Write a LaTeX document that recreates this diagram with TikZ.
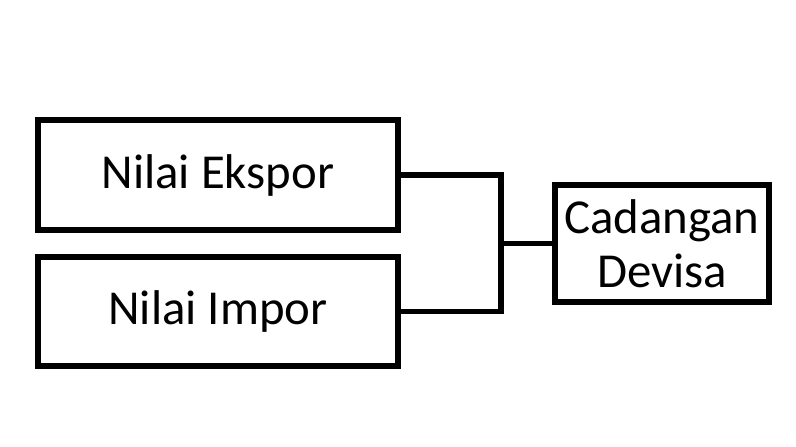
\documentclass[tikz,border=0pt]{standalone}
\usepackage{fontspec}
\setmainfont{Carlito}
\usetikzlibrary{positioning}

\begin{document}
\begin{tikzpicture}[x=1pt, y=1pt, node distance=136.5pt, on grid,
    font=\fontsize{48.8}{54}\selectfont,
    box/.style={draw, line width=5.5pt, align=center, inner sep=0pt},
    link/.style={line width=5.5pt}]
    \useasboundingbox (0,0) rectangle (796,447);
    \node[box, minimum width=360pt, minimum height=110pt] (ekspor) at (218,272) {Nilai Ekspor};%
    \node[box, minimum width=360pt, minimum height=109pt] (impor) [below=of ekspor] {Nilai Impor};%
    \node[box, minimum width=214pt, minimum height=117pt] (devisa)
    [below right=68.5pt and 444pt of ekspor] {Cadangan\\Devisa};%
    \coordinate (join) at (501,0 |- devisa.west);
    \draw[link] (ekspor.east) -| (join) |- (impor.east);
    \draw[link] (join) -- (devisa.west);
  \end{tikzpicture}
\end{document}
